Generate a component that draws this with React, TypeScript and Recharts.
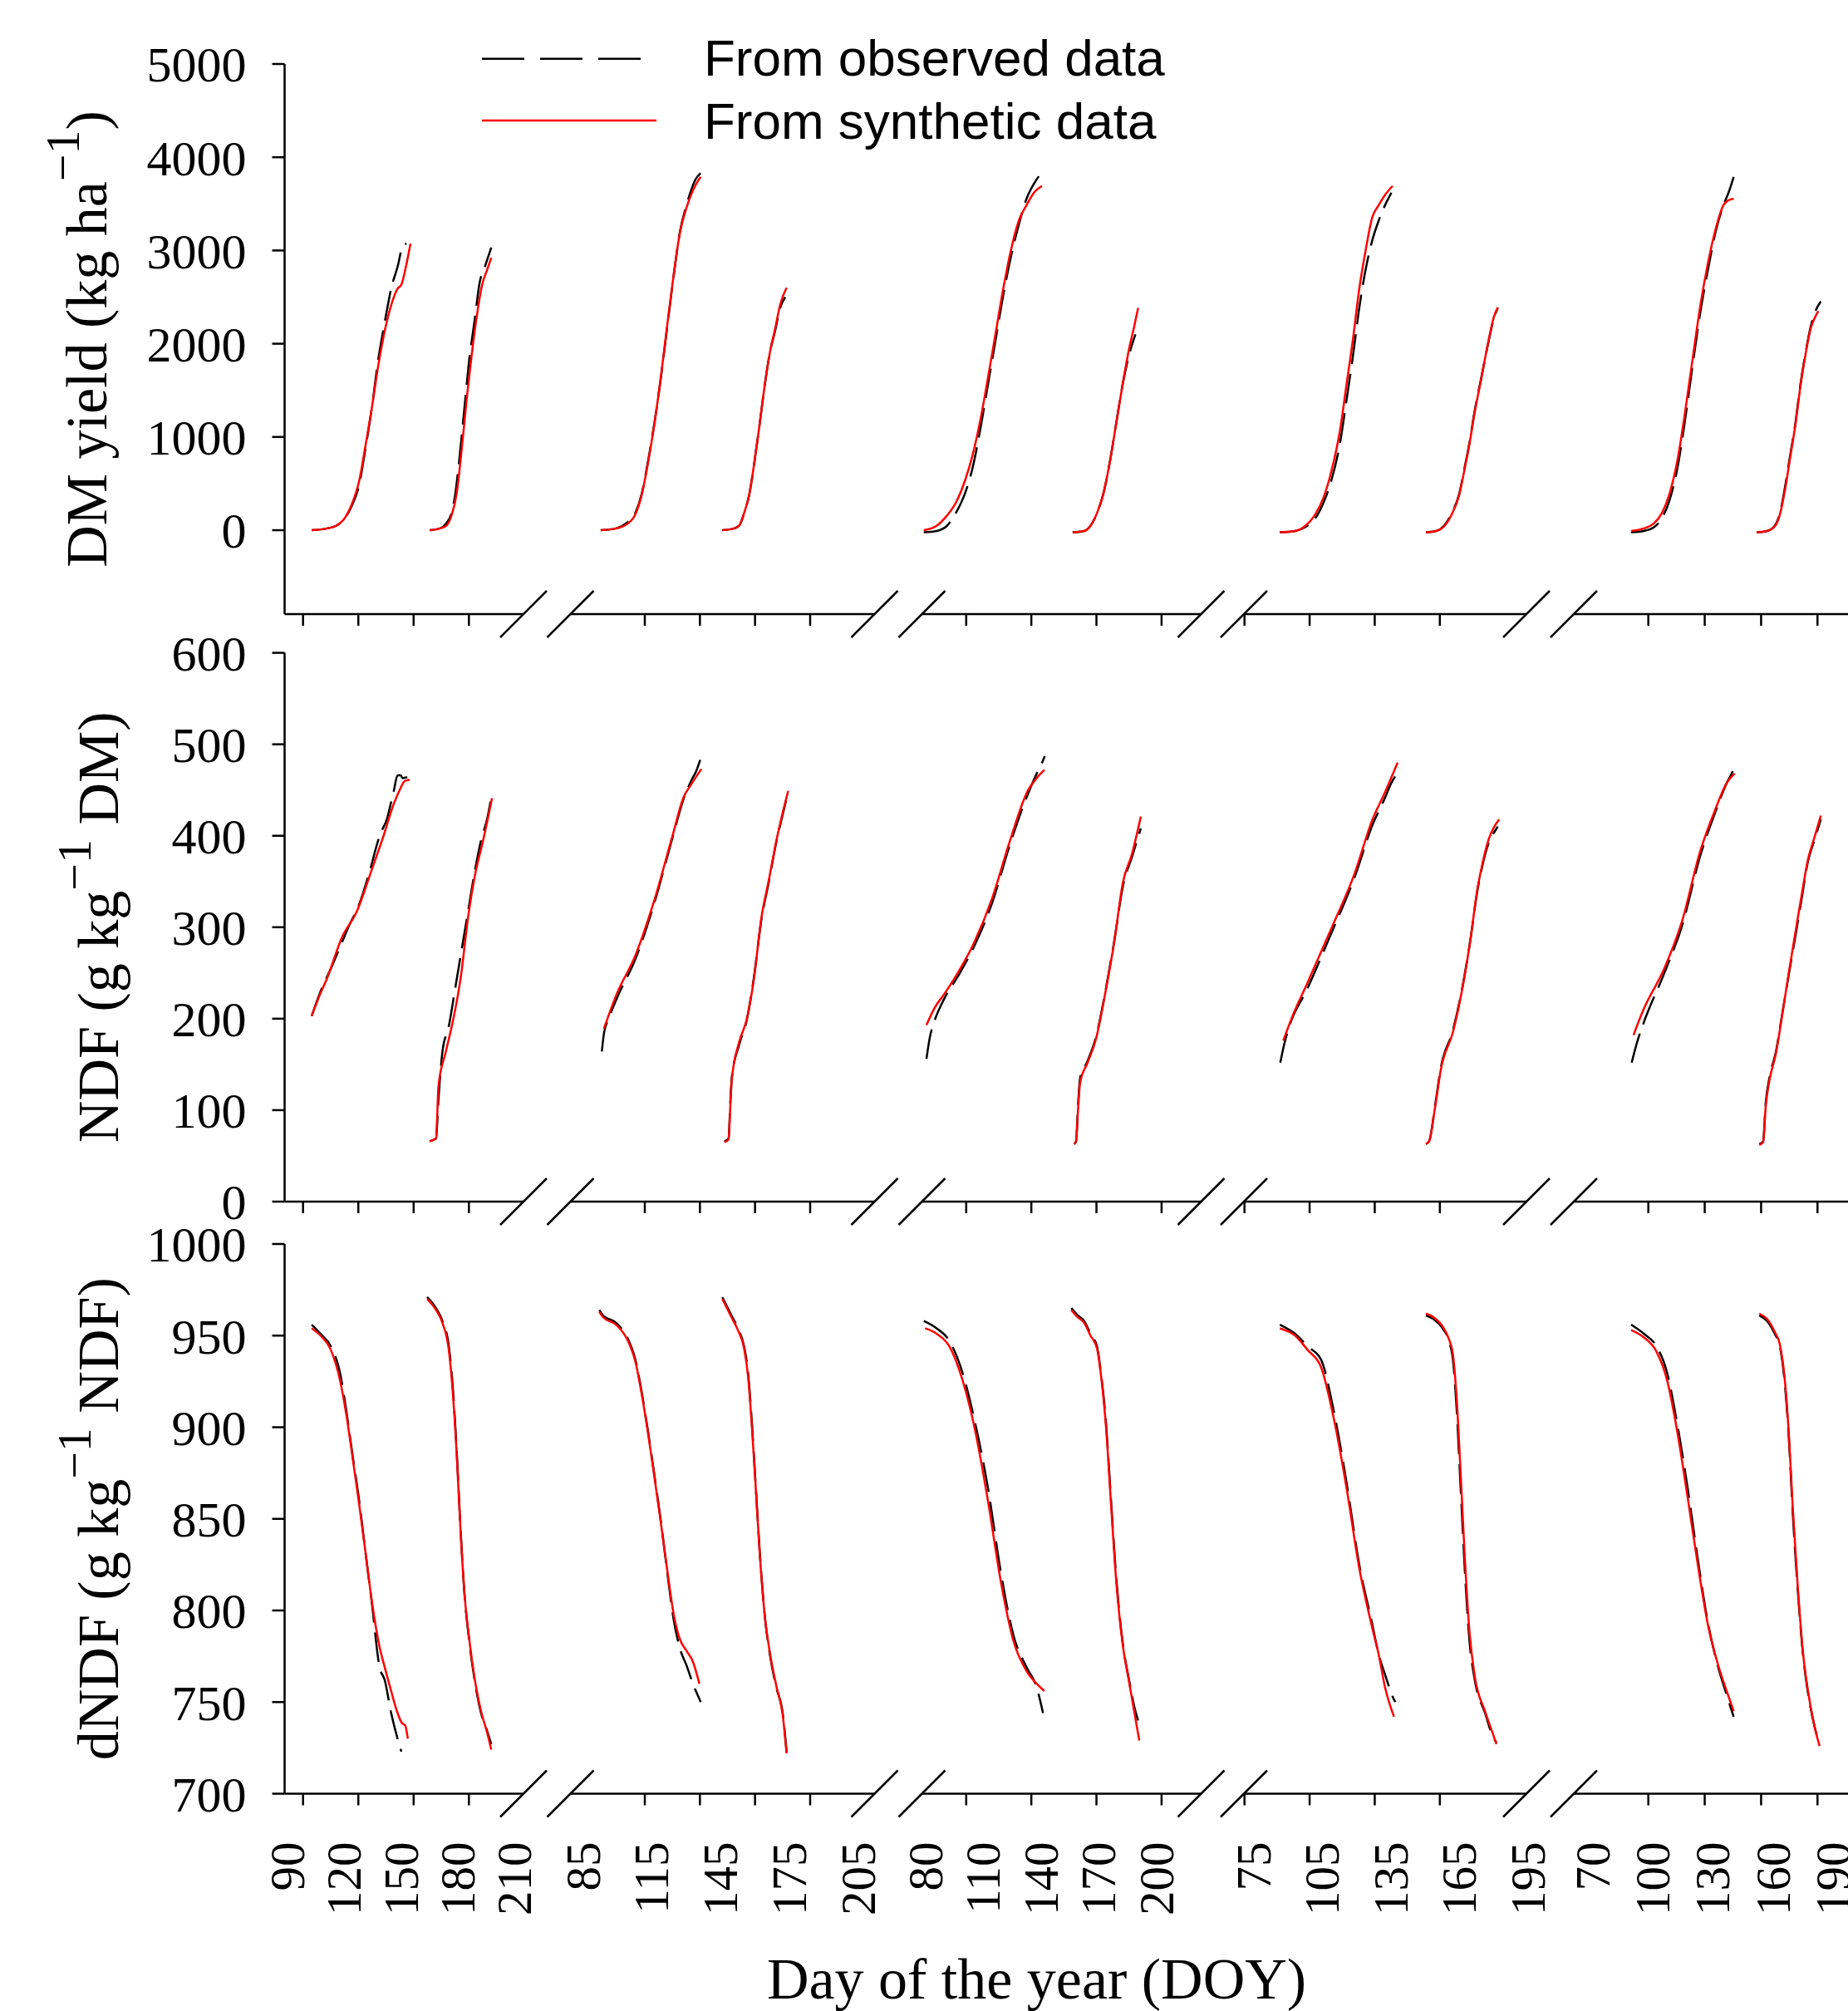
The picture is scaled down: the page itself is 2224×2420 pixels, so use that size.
import React from 'react';
import { LineChart, Line, XAxis, YAxis, Legend } from 'recharts';

type Pt = [number, number];

const W = 2224;
const H = 2420;
const SERIF = '"Liberation Serif", "Times New Roman", serif';
const SANS = '"Liberation Sans", Arial, sans-serif';
const RED = '#ff0000';
const AXIS = { stroke: '#000', strokeWidth: 2.5 };
const PAD_L = 30;
const PAD_R = 50;
const TICK = 14;
const LABEL_GAP = 58;

// tick labels printed under each year, and the tick marks on each axis piece
const DOY_LABELS = [
  [90, 120, 150, 180, 210],
  [85, 115, 145, 175, 205],
  [80, 110, 140, 170, 200],
  [75, 105, 135, 165, 195],
  [70, 100, 130, 160, 190],
];
const DOY_MARKS = [
  [90, 120, 150, 180],
  [115, 145, 175, 205],
  [110, 140, 170, 200],
  [75, 105, 135, 165],
  [100, 130, 160, 190],
];
const DM_TICKS = [0, 1000, 2000, 3000, 4000, 5000];
const NDF_TICKS = [0, 100, 200, 300, 400, 500, 600];
const DNDF_TICKS = [700, 750, 800, 850, 900, 950, 1000];

// [DOY, value]; per year: first growth, regrowth
const DM_OBS: Pt[][][] = [
  [
    [[94.0, 0], [102.1, 19], [106.9, 47], [111.0, 116], [115.0, 253], [119.1, 487], [122.4, 872], [125.8, 1312], [129.2, 1835], [131.3, 2083], [134.0, 2385], [136.0, 2591], [139.4, 2825], [142.1, 3045], [144.1, 3073]],
    [[156.3, 0], [161.8, 19], [165.1, 74], [167.9, 184], [169.9, 391], [171.9, 735], [174.6, 1285], [177.3, 1835], [180.1, 2248], [182.8, 2660], [185.5, 2825], [188.9, 3032]],
  ],
  [
    [[85.5, 0], [92.2, 19], [96.6, 74], [100.6, 184], [103.4, 391], [106.1, 735], [108.9, 1147], [111.7, 1629], [114.5, 2179], [117.3, 2729], [120.1, 3210], [122.9, 3486], [124.6, 3623], [126.8, 3761], [129.1, 3830]],
    [[138.5, 0], [143.6, 19], [145.8, 47], [148.0, 184], [150.3, 391], [152.5, 735], [154.8, 1147], [157.0, 1560], [159.2, 1904], [161.5, 2138], [163.7, 2385], [165.9, 2500]],
  ],
  [
    [[70.3, -22], [77.0, -8], [82.4, 47], [87.0, 184], [91.7, 391], [95.7, 666], [99.7, 1078], [103.7, 1560], [107.7, 2041], [111.7, 2523], [115.7, 2935], [119.8, 3279], [123.8, 3554], [127.8, 3720], [130.4, 3802]],
    [[147.8, -22], [153.8, -8], [157.1, 47], [160.5, 184], [163.8, 391], [167.2, 735], [170.5, 1147], [173.8, 1560], [177.2, 1880], [180.5, 2100]],
  ],
  [
    [[79.1, -22], [85.8, -8], [90.3, 33], [94.3, 116], [98.2, 294], [101.6, 528], [105.5, 941], [108.3, 1395], [111.1, 1863], [113.9, 2385], [116.7, 2798], [119.5, 3100], [122.4, 3320], [125.2, 3486], [128.0, 3620]],
    [[143.1, -22], [147.6, -8], [151.0, 47], [154.4, 184], [157.7, 391], [160.0, 666], [162.2, 941], [164.5, 1285], [167.3, 1629], [170.1, 1972], [172.9, 2275], [174.6, 2385]],
  ],
  [
    [[80.9, -22], [87.3, -8], [92.4, 33], [96.3, 129], [100.1, 322], [103.9, 652], [107.8, 1175], [111.6, 1766], [115.5, 2344], [119.3, 2798], [123.2, 3210], [127.0, 3486], [129.6, 3623], [132.1, 3788]],
    [[143.6, -22], [148.8, -8], [152.6, 47], [155.2, 184], [157.7, 459], [160.3, 803], [162.9, 1147], [165.4, 1560], [168.0, 1904], [170.5, 2179], [173.1, 2358], [175.6, 2454]],
  ],
];

const DM_SYN: Pt[][][] = [
  [
    [[94.0, 0], [102.1, 19], [106.9, 47], [111.0, 116], [115.0, 267], [119.1, 528], [122.4, 900], [125.8, 1312], [129.2, 1766], [132.6, 2138], [136.0, 2413], [139.4, 2591], [141.4, 2633], [143.5, 2798], [146.2, 3073]],
    [[156.3, 0], [161.8, 19], [165.1, 47], [167.9, 157], [170.6, 391], [173.3, 872], [176.0, 1422], [178.7, 1904], [181.4, 2316], [184.1, 2633], [186.8, 2798], [188.9, 2922]],
  ],
  [
    [[85.5, 0], [92.2, 19], [96.6, 60], [100.6, 170], [103.4, 380], [106.1, 720], [108.9, 1140], [111.7, 1640], [114.5, 2200], [117.3, 2740], [120.1, 3200], [122.9, 3460], [124.6, 3580], [126.8, 3700], [129.1, 3790]],
    [[138.5, 0], [143.6, 19], [145.8, 47], [148.0, 184], [150.3, 391], [152.5, 735], [154.8, 1147], [157.0, 1560], [159.2, 1904], [161.5, 2160], [163.7, 2420], [166.5, 2600]],
  ],
  [
    [[70.3, 0], [77.0, 47], [82.4, 157], [87.0, 294], [91.7, 528], [95.7, 803], [99.7, 1175], [103.7, 1629], [107.7, 2110], [111.7, 2591], [115.7, 3004], [119.8, 3320], [123.8, 3486], [127.8, 3623], [131.8, 3692]],
    [[147.8, -22], [153.8, -8], [157.1, 47], [160.5, 184], [163.8, 391], [167.2, 735], [170.5, 1147], [173.8, 1560], [177.2, 1945], [179.8, 2179], [181.9, 2385]],
  ],
  [
    [[79.1, -22], [85.8, -8], [90.3, 47], [94.3, 157], [98.2, 349], [101.6, 624], [105.5, 1078], [108.3, 1560], [111.1, 2041], [113.9, 2591], [116.7, 3004], [119.5, 3348], [122.4, 3486], [125.2, 3596], [128.5, 3692]],
    [[143.1, -22], [147.6, -8], [151.0, 40], [154.4, 170], [157.7, 380], [160.0, 650], [162.2, 930], [164.5, 1270], [167.3, 1620], [170.1, 1980], [172.9, 2290], [174.6, 2390]],
  ],
  [
    [[80.9, -8], [87.3, 19], [92.4, 74], [96.3, 184], [100.1, 391], [103.9, 735], [107.8, 1257], [111.6, 1835], [115.5, 2413], [119.3, 2867], [123.2, 3238], [127.0, 3486], [129.6, 3540], [132.1, 3554]],
    [[143.6, -22], [148.8, -8], [152.6, 40], [155.2, 170], [157.7, 430], [160.3, 780], [162.9, 1130], [165.4, 1540], [168.0, 1890], [170.5, 2160], [173.1, 2300], [174.4, 2350]],
  ],
];

const NDF_OBS: Pt[][][] = [
  [
    [[94.0, 203], [98.7, 230], [104.2, 255], [108.9, 278], [113.6, 301], [119.1, 325], [124.5, 360], [129.9, 400], [134.0, 420], [136.0, 437], [137.4, 449], [139.4, 466], [141.0, 466], [142.1, 463], [144.5, 464]],
    [[156.3, 66], [159.7, 69], [161.1, 115], [163.1, 164], [166.5, 192], [169.9, 234], [173.3, 276], [176.7, 318], [180.1, 360], [183.5, 395], [186.8, 419], [188.9, 442]],
  ],
  [
    [[86.0, 164], [87.0, 185], [89.0, 200], [92.5, 222], [100.6, 265], [108.7, 325], [116.8, 398], [121.6, 440], [124.9, 460], [127.0, 470], [129.4, 487]],
    [[139.4, 66], [141.2, 69], [142.0, 110], [142.6, 135], [145.9, 172], [149.1, 198], [152.3, 246], [155.5, 308], [158.8, 350], [162.0, 393], [164.5, 420], [166.9, 445]],
  ],
  [
    [[71.7, 156], [73.5, 180], [75.5, 195], [81.0, 222], [88.0, 246], [96.5, 279], [105.8, 326], [115.1, 390], [124.4, 445], [129.1, 468], [131.5, 478], [133.3, 487]],
    [[148.6, 63], [149.6, 66], [150.6, 105], [151.7, 135], [155.4, 153], [160.1, 181], [164.7, 228], [169.4, 284], [174.0, 345], [178.7, 377], [183.3, 408]],
  ],
  [
    [[79.3, 152], [81.0, 172], [83.0, 190], [91.0, 232], [101.4, 292], [111.9, 355], [119.7, 412], [124.9, 440], [128.0, 458], [130.7, 469]],
    [[143.1, 63], [144.5, 66], [147.1, 105], [149.6, 146], [155.0, 188], [158.9, 232], [162.8, 290], [165.4, 336], [167.9, 368], [170.7, 393], [173.3, 405], [174.6, 410]],
  ],
  [
    [[81.2, 152], [84.0, 175], [87.1, 195], [97.5, 250], [106.4, 302], [115.4, 378], [122.8, 425], [128.7, 458], [131.5, 470], [133.1, 480]],
    [[144.9, 63], [146.8, 66], [148.1, 108], [150.0, 136], [153.2, 164], [156.4, 206], [159.6, 248], [162.9, 290], [166.1, 332], [169.2, 372], [172.4, 395], [175.6, 418]],
  ],
];

const NDF_SYN: Pt[][][] = [
  [
    [[94.0, 203], [98.7, 228], [102.1, 244], [110.0, 289], [117.8, 317], [125.6, 362], [131.5, 397], [137.4, 435], [140.3, 449], [143.3, 460], [145.8, 461]],
    [[156.3, 66], [159.7, 69], [161.0, 126], [164.9, 164], [168.8, 199], [172.7, 244], [176.6, 310], [180.5, 359], [184.5, 394], [186.8, 416], [189.3, 441]],
  ],
  [
    [[86.9, 189], [92.5, 227], [100.6, 269], [108.7, 328], [116.8, 400], [121.6, 442], [124.9, 456], [129.4, 473]],
    [[139.4, 65], [141.2, 68], [142.0, 105], [142.6, 133], [145.9, 175], [149.1, 199], [152.3, 244], [155.5, 310], [158.8, 352], [162.0, 394], [164.5, 422], [167.2, 449]],
  ],
  [
    [[71.7, 193], [76.0, 212], [81.0, 227], [88.0, 250], [96.5, 283], [105.8, 331], [115.1, 394], [124.4, 449], [129.1, 463], [133.1, 472]],
    [[148.6, 63], [149.6, 66], [150.6, 100], [151.7, 130], [155.4, 151], [160.1, 179], [164.7, 227], [169.4, 283], [174.0, 349], [178.7, 380], [183.3, 421]],
  ],
  [
    [[80.6, 176], [85.0, 205], [91.0, 238], [101.4, 297], [111.9, 359], [119.7, 418], [124.9, 446], [130.7, 480]],
    [[143.1, 63], [144.5, 66], [147.1, 103], [149.6, 144], [155.0, 186], [158.9, 231], [162.8, 290], [165.4, 338], [167.9, 370], [170.7, 397], [173.3, 411], [175.2, 418]],
  ],
  [
    [[82.1, 182], [87.1, 210], [97.5, 255], [106.4, 307], [115.4, 383], [122.8, 428], [128.7, 458], [132.6, 468]],
    [[144.9, 62], [146.8, 65], [148.1, 104], [150.0, 133], [153.2, 162], [156.4, 205], [159.6, 250], [162.9, 294], [166.1, 336], [169.2, 374], [172.4, 398], [175.6, 422]],
  ],
];

const DNDF_OBS: Pt[][][] = [
  [
    [[94.0, 956], [98.7, 951], [104.2, 944], [108.9, 930], [112.3, 909], [115.7, 884], [119.1, 860], [122.4, 832], [125.8, 804], [129.9, 769], [132.6, 762], [136.0, 744], [139.4, 730], [141.4, 723]],
    [[155.0, 971], [159.7, 965], [163.1, 958], [166.5, 944], [168.5, 923], [170.6, 888], [172.6, 846], [174.6, 811], [177.3, 783], [180.1, 762], [183.5, 744], [186.8, 734], [188.9, 727]],
  ],
  [
    [[84.9, 964], [86.6, 961], [92.2, 957], [97.8, 947], [100.6, 937], [103.4, 919], [106.1, 898], [108.9, 874], [111.7, 849], [114.5, 821], [117.3, 795], [120.1, 779], [122.9, 770], [125.7, 760], [129.1, 750]],
    [[138.5, 971], [139.7, 968], [142.5, 961], [145.3, 954], [148.0, 944], [149.7, 930], [151.4, 902], [153.1, 867], [154.8, 832], [157.0, 797], [159.2, 776], [162.0, 758], [164.8, 744], [166.5, 723]],
  ],
  [
    [[70.3, 958], [77.0, 954], [83.7, 947], [90.4, 930], [97.1, 902], [103.7, 867], [110.4, 821], [117.1, 786], [123.8, 769], [129.1, 758], [132.4, 744]],
    [[147.1, 965], [150.5, 961], [153.8, 958], [157.1, 951], [160.5, 944], [162.5, 930], [165.2, 902], [167.8, 860], [170.5, 818], [173.8, 783], [177.2, 762], [180.5, 745], [181.9, 740]],
  ],
  [
    [[79.1, 956], [85.8, 951], [91.4, 944], [97.1, 937], [102.7, 909], [108.3, 870], [113.9, 825], [119.5, 793], [122.4, 776], [125.2, 765], [128.5, 753], [129.7, 750]],
    [[143.1, 961], [146.5, 959], [150.4, 954], [153.2, 947], [154.9, 937], [156.6, 909], [158.3, 867], [160.0, 825], [162.2, 783], [164.5, 762], [169.0, 744], [172.9, 730], [174.0, 728]],
  ],
  [
    [[80.9, 956], [87.3, 951], [93.7, 944], [98.8, 930], [103.9, 902], [109.1, 867], [114.2, 828], [119.3, 793], [124.4, 769], [128.3, 755], [132.1, 742]],
    [[144.9, 961], [148.8, 958], [152.6, 951], [155.2, 944], [157.7, 923], [159.6, 895], [161.6, 853], [164.1, 811], [166.7, 776], [169.2, 755], [172.4, 737], [175.0, 727]],
  ],
];

const DNDF_SYN: Pt[][][] = [
  [
    [[94.0, 954], [98.7, 950], [104.2, 942], [108.9, 926], [112.3, 907], [115.7, 883], [119.1, 858], [122.4, 832], [125.8, 805], [129.9, 780], [132.6, 769], [136.0, 756], [139.4, 744], [141.4, 739], [143.5, 737], [144.8, 730]],
    [[155.0, 970], [159.7, 964], [163.1, 957], [166.5, 942], [168.5, 920], [170.6, 886], [172.6, 845], [174.6, 811], [177.3, 784], [180.1, 763], [183.5, 745], [186.8, 733], [188.9, 724]],
  ],
  [
    [[84.9, 963], [86.6, 960], [92.2, 956], [97.8, 946], [100.6, 936], [103.4, 918], [106.1, 897], [108.9, 873], [111.7, 848], [114.5, 822], [117.3, 798], [120.1, 784], [122.9, 778], [125.7, 772], [128.5, 760]],
    [[138.5, 970], [139.7, 967], [142.5, 960], [145.3, 953], [148.0, 943], [149.7, 928], [151.4, 900], [153.1, 866], [154.8, 831], [157.0, 797], [159.2, 777], [162.0, 759], [164.8, 743], [166.5, 722]],
  ],
  [
    [[71.0, 954], [77.0, 951], [83.7, 944], [90.4, 926], [97.1, 898], [103.7, 860], [110.4, 816], [117.1, 783], [123.8, 767], [129.1, 760], [133.1, 756]],
    [[147.1, 964], [150.5, 960], [153.8, 957], [157.1, 950], [160.5, 943], [162.5, 929], [165.2, 900], [167.8, 858], [170.5, 816], [173.8, 782], [177.2, 761], [180.5, 741], [182.5, 729]],
  ],
  [
    [[79.1, 954], [85.8, 950], [91.4, 942], [97.1, 933], [102.7, 905], [108.3, 867], [113.9, 823], [119.5, 791], [122.4, 776], [125.2, 758], [129.1, 742]],
    [[143.1, 962], [146.5, 960], [150.4, 955], [153.2, 948], [154.9, 940], [156.6, 915], [158.3, 875], [160.0, 832], [162.2, 788], [164.5, 764], [169.0, 745], [172.9, 731], [174.0, 727]],
  ],
  [
    [[80.9, 953], [87.3, 949], [93.7, 941], [98.8, 926], [103.9, 898], [109.1, 862], [114.2, 825], [119.3, 792], [124.4, 770], [128.3, 757], [132.1, 745]],
    [[144.9, 962], [148.8, 959], [152.6, 952], [155.2, 945], [157.7, 925], [159.6, 897], [161.6, 856], [164.1, 813], [166.7, 777], [169.2, 756], [172.4, 737], [175.0, 726]],
  ],
];

// page layout: each year is its own small chart, sharing the panel's y range
const SEGMENTS = [
  { left: 342.5, right: 630, doyDomain: [79.69, 205.93], markDomain: [79.99, 209.62] },
  { left: 686.5, right: 1052.5, doyDomain: [72.51, 205.0], markDomain: [74.75, 240.28] },
  { left: 1109.5, right: 1445.5, doyDomain: [69.56, 214.91], markDomain: [89.79, 218.41] },
  { left: 1497, right: 1837, doyDomain: [63.35, 187.13], markDomain: [74.73, 204.89] },
  { left: 1894, right: 2224, doyDomain: [52.3, 189.17], markDomain: [60.35, 206.23] },
];
const BREAKS = [630, 686.5, 1052.5, 1109.5, 1445.5, 1497, 1837, 1894];

const PANELS = [
  { top: 77, bottom: 739, chartTop: 0, domain: [-900, 5000], ticks: DM_TICKS, obs: DM_OBS, syn: DM_SYN, title: ['DM yield (kg ha', ')'], titleX: 128 },
  { top: 785.6, bottom: 1446, chartTop: 745, domain: [0, 600], ticks: NDF_TICKS, obs: NDF_OBS, syn: NDF_SYN, title: ['NDF (g kg', ' DM)'], titleX: 142 },
  { top: 1497, bottom: 2158.5, chartTop: 1457, domain: [700, 1000], ticks: DNDF_TICKS, obs: DNDF_OBS, syn: DNDF_SYN, title: ['dNDF (g kg', ' NDF)'], titleX: 142 },
];

const LEGEND = [
  { name: 'From observed data', color: '#000', dash: '51 19', len: 191 },
  { name: 'From synthetic data', color: RED, dash: undefined, len: 210 },
];

const rows = (pts: Pt[]) => pts.map(([d, v]) => ({ d, v }));

const LegendBox = () => (
  <svg width={900} height={160}>
    {LEGEND.map((item, i) => (
      <g key={item.name}>
        <line x1={20} x2={20 + item.len} y1={40.7 + i * 74.3} y2={40.7 + i * 74.3} stroke={item.color} strokeWidth={2.5} strokeDasharray={item.dash} />
        <text x={287} y={61 + i * 75.7} fontFamily={SANS} fontSize={62} fill="#000">{item.name}</text>
      </g>
    ))}
  </svg>
);

function SegmentChart({ p, k }: { p: number; k: number }) {
  const panel = PANELS[p];
  const seg = SEGMENTS[k];
  const first = k === 0;
  const bottomPanel = p === PANELS.length - 1;
  const chartLeft = first ? 0 : seg.left - PAD_L;
  const mt = panel.top - panel.chartTop;
  const plotH = panel.bottom - panel.top;
  const axisH = bottomPanel ? 200 : 40;
  const width = seg.right + PAD_R - chartLeft;
  const height = mt + plotH + axisH;
  const titleY = mt + plotH / 2;
  const axisY = mt + plotH;

  // the printed labels and the tick marks sit on two slightly different DOY scales;
  // express the marks in the labels' scale so that one axis carries both
  const [d0, d1] = seg.doyDomain;
  const [m0, m1] = seg.markDomain;
  const markToDoy = (m: number) => d0 + ((m - m0) * (d1 - d0)) / (m1 - m0);
  const labels = bottomPanel ? DOY_LABELS[k] : [];
  const ticks = [...labels, ...DOY_MARKS[k].map(markToDoy)];

  const SegTick = (props: any) => {
    const { x, payload } = props;
    if (labels.includes(payload.value)) {
      const y = axisY + LABEL_GAP;
      return (
        <text x={x} y={y} transform={`rotate(-90 ${x} ${y})`} textAnchor="end" fontFamily={SERIF} fontSize={59} fill="#000">
          {payload.value}
        </text>
      );
    }
    return <line x1={x} x2={x} y1={axisY} y2={axisY + TICK} stroke="#000" strokeWidth={2.5} />;
  };

  const title = () => (
    <text
      transform={`translate(${panel.titleX},${titleY}) rotate(-90)`}
      textAnchor="middle"
      fontFamily={SERIF}
      fontSize={70}
      fill="#000"
      style={{ whiteSpace: 'pre' }}
    >
      <tspan>{panel.title[0]}</tspan>
      <tspan dy={-33} fontSize={58}>−1</tspan>
      <tspan dy={33}>{panel.title[1]}</tspan>
    </text>
  );

  return (
    <div style={{ position: 'absolute', left: chartLeft, top: panel.chartTop }}>
      <LineChart width={width} height={height} margin={{ top: mt, right: PAD_R, bottom: 0, left: first ? 0 : PAD_L }}>
        <XAxis
          dataKey="d"
          type="number"
          domain={seg.doyDomain}
          allowDataOverflow
          ticks={ticks}
          interval={0}
          height={axisH}
          axisLine={AXIS}
          tickLine={false}
          tickSize={0}
          tickMargin={0}
          tick={SegTick}
        />
        {first ? (
          <YAxis
            type="number"
            domain={panel.domain}
            allowDataOverflow
            ticks={panel.ticks}
            interval={0}
            width={seg.left}
            tickSize={15}
            tickMargin={31}
            axisLine={AXIS}
            tickLine={AXIS}
            tick={{ fontSize: 60, fontFamily: SERIF, fill: '#000' }}
            label={title}
          />
        ) : (
          <YAxis hide type="number" domain={panel.domain} allowDataOverflow />
        )}
        {panel.obs[k].map((pts, c) => (
          <Line
            key={`obs-${c}`}
            data={rows(pts)}
            dataKey="v"
            name="From observed data"
            type="monotone"
            stroke="#000"
            strokeWidth={2.5}
            strokeDasharray="36 12"
            dot={false}
            activeDot={false}
            isAnimationActive={false}
          />
        ))}
        {panel.syn[k].map((pts, c) => (
          <Line
            key={`syn-${c}`}
            data={rows(pts)}
            dataKey="v"
            name="From synthetic data"
            type="monotone"
            stroke={RED}
            strokeWidth={2.5}
            dot={false}
            activeDot={false}
            isAnimationActive={false}
          />
        ))}
        {p === 0 && first && (
          <Legend
            layout="horizontal"
            verticalAlign="middle"
            align="center"
            wrapperStyle={{ left: 560, top: 30, width: 900, height: 160 }}
            content={LegendBox}
          />
        )}
      </LineChart>
    </div>
  );
}

export default function App() {
  return (
    <div style={{ position: 'absolute', left: 0, top: 0, width: W, height: H, background: '#fff', overflow: 'hidden' }}>
      {PANELS.map((_, p) => SEGMENTS.map((__, k) => <SegmentChart key={`${p}-${k}`} p={p} k={k} />))}
      <svg width={W} height={H} style={{ position: 'absolute', left: 0, top: 0, pointerEvents: 'none' }}>
        {PANELS.map((panel) =>
          BREAKS.map((cx) => (
            <line
              key={`${panel.bottom}-${cx}`}
              x1={cx - 28}
              y1={panel.bottom + 28}
              x2={cx + 28}
              y2={panel.bottom - 28}
              stroke="#000"
              strokeWidth={2.5}
            />
          ))
        )}
        <text x={1247.5} y={2405} textAnchor="middle" fontFamily={SERIF} fontSize={70} fill="#000">
          Day of the year (DOY)
        </text>
      </svg>
    </div>
  );
}
